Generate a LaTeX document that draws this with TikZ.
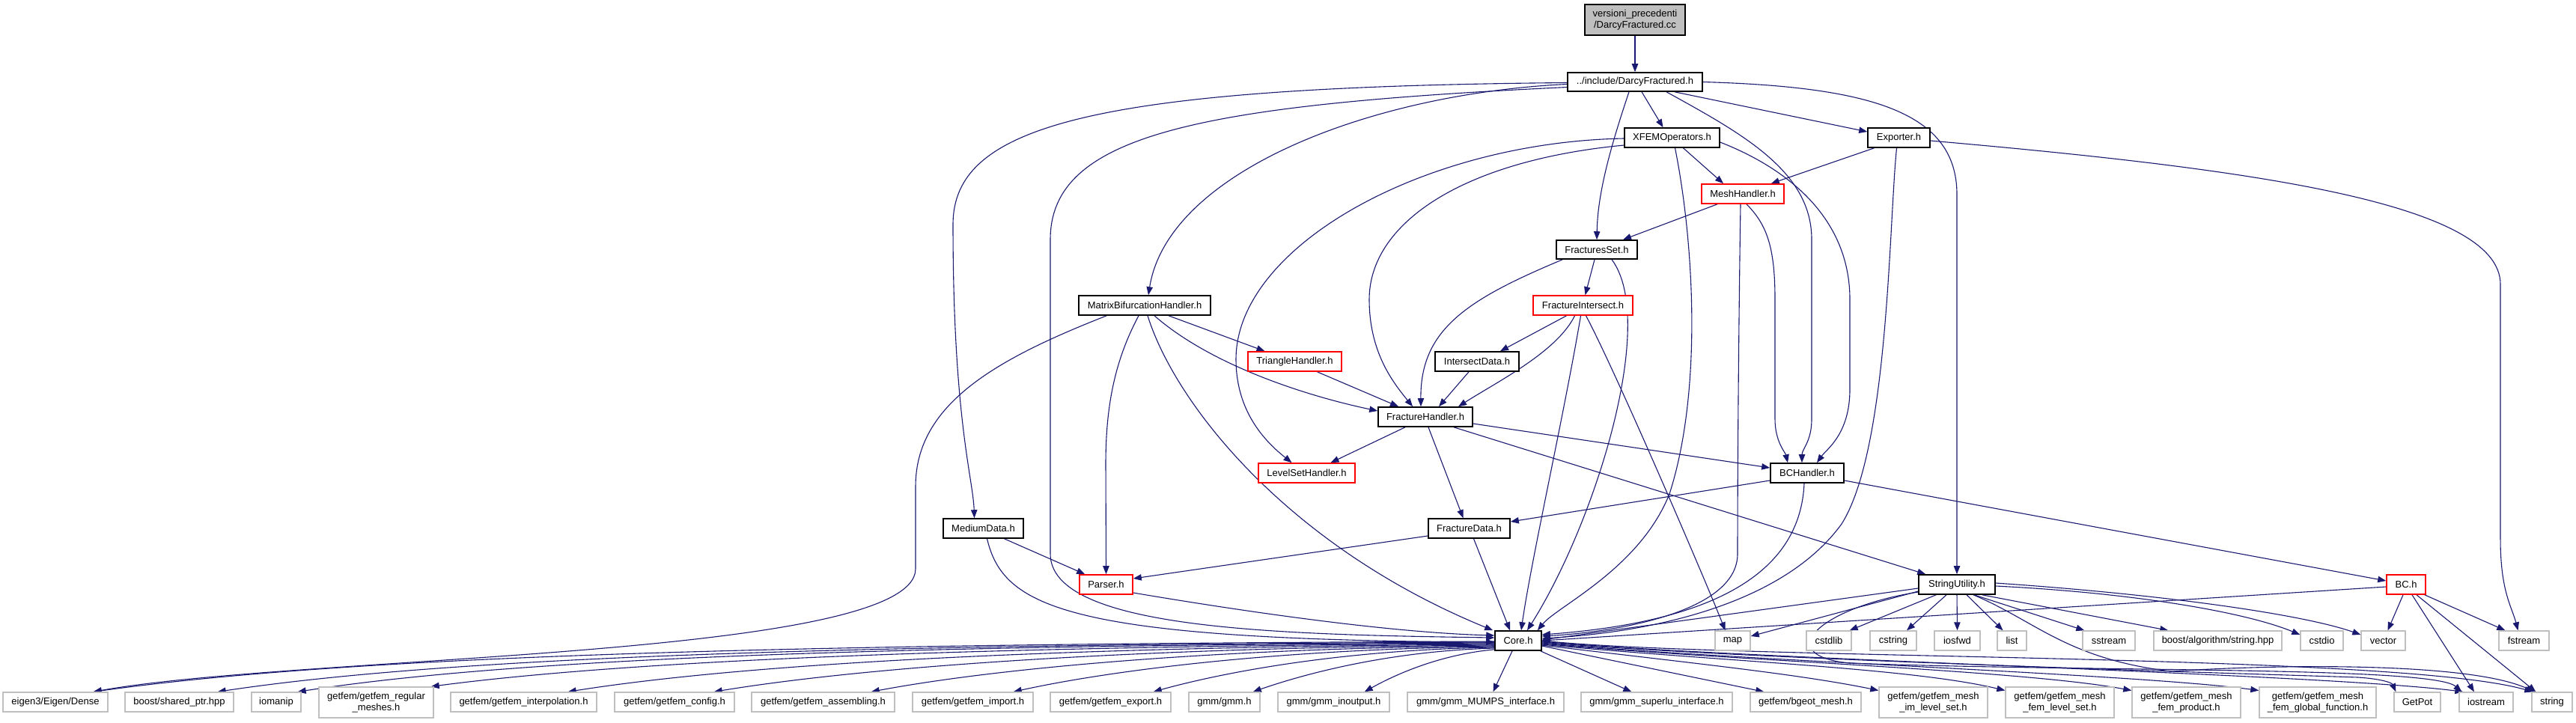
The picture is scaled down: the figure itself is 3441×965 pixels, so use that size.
\documentclass[tikz,border=0pt]{standalone}
\usepackage{fontspec}
\setmainfont{Liberation Sans}
\usetikzlibrary{arrows.meta,calc,backgrounds}
\definecolor{edgeblue}{RGB}{25,25,112}
\definecolor{nodegray}{RGB}{191,191,191}
\newcommand{\dgfont}{\fontsize{6.5pt}{7.4pt}\selectfont}
\tikzset{
  base/.style={rectangle, inner sep=0pt, font=\dgfont, fill=white, align=center, text=black},
  bk/.style={base, draw=black, line width=0.8pt},
  rd/.style={base, draw=red, line width=0.8pt},
  gr/.style={base, draw=nodegray, line width=0.7pt},
  rt/.style={base, draw=black, fill=nodegray, line width=0.8pt},
  wh/.style 2 args={minimum width=#1*0.5pt, minimum height=#2*0.5pt},
  e/.style={draw=edgeblue, line width=0.55pt, -{Triangle[length=5.5pt,width=4.2pt]}}
}
\begin{document}
\begin{tikzpicture}[x=0.5pt,y=-0.5pt]
\useasboundingbox (0,0) rectangle (3441,965);
% ---------- nodes ----------
\node[rt, wh={134}{41}] (root) at (2184,26.5) {versioni\_precedenti\\/DarcyFractured.cc};
\node[bk, wh={180}{25}] (D) at (2184,109.5) {../include/DarcyFractured.h};
\node[bk, wh={127}{26}] (X) at (2233.5,184) {XFEMOperators.h};
\node[bk, wh={83}{26}] (Exp) at (2536.5,184) {Exporter.h};
\node[rd, wh={110}{26}] (MH) at (2328,259) {MeshHandler.h};
\node[bk, wh={108}{25}] (FS) at (2133,333.5) {FracturesSet.h};
\node[bk, wh={176}{26}] (MBH) at (1529,408) {MatrixBifurcationHandler.h};
\node[rd, wh={133}{26}] (FI) at (2114.5,408) {FractureIntersect.h};
\node[rd, wh={125}{26}] (TH) at (1729.5,483) {TriangleHandler.h};
\node[bk, wh={112}{26}] (ID) at (1973,483) {IntersectData.h};
\node[bk, wh={126}{26}] (FH) at (1904,557) {FractureHandler.h};
\node[rd, wh={129}{26}] (LSH) at (1745.5,632) {LevelSetHandler.h};
\node[bk, wh={98}{26}] (BCH) at (2414,632) {BCHandler.h};
\node[bk, wh={107}{26}] (MD) at (1313.5,706) {MediumData.h};
\node[bk, wh={109}{26}] (FD) at (1962.5,706) {FractureData.h};
\node[rd, wh={71}{26}] (Par) at (1477.5,781) {Parser.h};
\node[bk, wh={102}{26}] (SU) at (2614,781) {StringUtility.h};
\node[rd, wh={52}{26}] (BC) at (3214,781) {BC.h};
\node[bk, wh={62}{26}] (Core) at (2028,856) {Core.h};
\node[gr, wh={47}{26}] (map) at (2314.5,856) {map};
\node[gr, wh={60}{26}] (cstdlib) at (2443,856) {cstdlib};
\node[gr, wh={62}{26}] (cstring) at (2529,856) {cstring};
\node[gr, wh={61}{26}] (iosfwd) at (2614.5,856) {iosfwd};
\node[gr, wh={39}{26}] (list) at (2687.5,856) {list};
\node[gr, wh={70}{26}] (sstream) at (2817,856) {sstream};
\node[gr, wh={171}{26}] (balg) at (2962.5,856) {boost/algorithm/string.hpp};
\node[gr, wh={57}{26}] (cstdio) at (3101.5,856) {cstdio};
\node[gr, wh={59}{26}] (vector) at (3183.5,856) {vector};
\node[gr, wh={67}{26}] (fstream) at (3371.5,856) {fstream};
\node[gr, wh={140}{26}] (eigen) at (74,938) {eigen3/Eigen/Dense};
\node[gr, wh={145}{26}] (shptr) at (239.5,938) {boost/shared\_ptr.hpp};
\node[gr, wh={66}{26}] (iomanip) at (369,938) {iomanip};
\node[gr, wh={153}{41}] (regmesh) at (502.5,938.5) {getfem/getfem\_regular\\\_meshes.h};
\node[gr, wh={195}{26}] (interp) at (699.5,938) {getfem/getfem\_interpolation.h};
\node[gr, wh={160}{26}] (config) at (901,938) {getfem/getfem\_config.h};
\node[gr, wh={191}{26}] (assem) at (1099.5,938) {getfem/getfem\_assembling.h};
\node[gr, wh={161}{26}] (import) at (1299.5,938) {getfem/getfem\_import.h};
\node[gr, wh={161}{26}] (export) at (1483.5,938) {getfem/getfem\_export.h};
\node[gr, wh={95}{26}] (gmm) at (1635.5,938) {gmm/gmm.h};
\node[gr, wh={149}{26}] (inout) at (1781.5,938) {gmm/gmm\_inoutput.h};
\node[gr, wh={209}{26}] (mumps) at (1984.5,938) {gmm/gmm\_MUMPS\_interface.h};
\node[gr, wh={202}{26}] (superlu) at (2213,938) {gmm/gmm\_superlu\_interface.h};
\node[gr, wh={148}{26}] (bgeot) at (2412,938) {getfem/bgeot\_mesh.h};
\node[gr, wh={145}{41}] (imls) at (2582.5,938.5) {getfem/getfem\_mesh\\\_im\_level\_set.h};
\node[gr, wh={145}{41}] (femls) at (2751.5,938.5) {getfem/getfem\_mesh\\\_fem\_level\_set.h};
\node[gr, wh={145}{41}] (femprod) at (2920.5,938.5) {getfem/getfem\_mesh\\\_fem\_product.h};
\node[gr, wh={156}{41}] (femglob) at (3096,938.5) {getfem/getfem\_mesh\\\_fem\_global\_function.h};
\node[gr, wh={62}{26}] (getpot) at (3229,938) {GetPot};
\node[gr, wh={72}{26}] (iostream) at (3321,938) {iostream};
\node[gr, wh={54}{26}] (string) at (3409,938) {string};
% ---------- edges ----------
\begin{pgfonlayer}{background}
\draw[e] (root.south) -- (D.north);
% DarcyFractured.h
\draw[e] ($(D.south)+(9,0)$) -- ($(X.north)+(-12,0)$);
\draw[e] ($(D.south)+(53,0)$) -- ($(Exp.west)+(0,-8)$);
\draw[e] ($(D.south)+(-8,0)$) .. controls (2150,200) and (2134,260) .. (FS.north);
\draw[e] ($(D.west)+(0,3)$) .. controls (1830,125) and (1560,230) .. ($(MBH.north)+(5,0)$);
\draw[e] ($(D.west)+(0,1)$) .. controls (1450,116) and (1273,170) .. (1273,300) .. controls (1273,560) and (1300,640) .. ($(MD.north)+(-12,0)$);
\draw[e] ($(D.west)+(0,7)$) .. controls (1600,140) and (1403,180) .. (1403,320) -- (1403,740) .. controls (1403,840) and (1700,848) .. ($(Core.west)+(0,-4)$);
\draw[e] ($(D.south)+(42,0)$) .. controls (2330,180) and (2420,230) .. (2420,320) -- (2420,560) .. controls (2420,590) and (2407,600) .. ($(BCH.north)+(-7,0)$);
\draw[e] (D.east) .. controls (2500,116) and (2614,150) .. (2614,260) -- (SU.north);
% XFEMOperators.h
\draw[e] ($(X.south)+(15,0)$) -- ($(MH.north)+(-26,0)$);
\draw[e] ($(X.south)+(4,0)$) .. controls (2262,320) and (2275,520) .. (2230,660) .. controls (2190,760) and (2080,810) .. ($(Core.north east)+(-6,0)$);
\draw[e] ($(X.west)+(0,10)$) .. controls (1950,215) and (1829,300) .. (1829,400) .. controls (1829,470) and (1860,510) .. ($(FH.north)+(-17,0)$);
\draw[e] ($(X.west)+(0,1)$) .. controls (1900,190) and (1651,330) .. (1651,480) .. controls (1651,550) and (1690,590) .. ($(LSH.north)+(-20,0)$);
\draw[e] ($(X.east)+(0,6)$) .. controls (2400,230) and (2471,300) .. (2471,400) -- (2471,520) .. controls (2471,580) and (2440,600) .. ($(BCH.north)+(13,0)$);
% Exporter.h
\draw[e] ($(Exp.south)+(-33,0)$) -- ($(MH.north east)+(-18,0)$);
\draw[e] ($(Exp.south)+(-3,0)$) .. controls (2523,300) and (2523,600) .. (2460,700) .. controls (2380,810) and (2200,845) .. ($(Core.east)+(0,-3)$);
\draw[e] ($(Exp.east)+(0,4)$) .. controls (3000,225) and (3340,270) .. (3340,380) -- (3340,720) .. controls (3340,790) and (3355,810) .. ($(fstream.north)+(-8,0)$);
% MeshHandler.h
\draw[e] ($(MH.south)+(-34,0)$) -- ($(FS.north)+(35,0)$);
\draw[e] ($(MH.south)+(-3,0)$) .. controls (2323,400) and (2321,600) .. (2321,740) .. controls (2321,820) and (2150,845) .. ($(Core.east)+(0,-6)$);
\draw[e] ($(MH.south)+(5,0)$) .. controls (2360,300) and (2371,330) .. (2371,400) -- (2371,560) .. controls (2371,590) and (2385,605) .. ($(BCH.north)+(-26,0)$);
% FracturesSet.h
\draw[e] ($(FS.south)+(-3,0)$) -- ($(FI.north)+(3,0)$);
\draw[e] ($(FS.south west)+(9,0)$) .. controls (1960,400) and (1897,440) .. ($(FH.north)+(-6,0)$);
\draw[e] ($(FS.south)+(20,0)$) .. controls (2215,430) and (2130,700) .. ($(Core.north)+(12,0)$);
% MatrixBifurcationHandler.h
\draw[e] ($(MBH.south)+(32,0)$) -- ($(TH.north)+(-40,0)$);
\draw[e] ($(MBH.south)+(13,0)$) .. controls (1620,490) and (1750,530) .. ($(FH.west)+(0,-8)$);
\draw[e] ($(MBH.south)+(-8,0)$) .. controls (1490,480) and (1477,540) .. (1477,620) -- (Par.north);
\draw[e] ($(MBH.south)+(4,0)$) .. controls (1570,540) and (1720,730) .. ($(Core.north west)+(-2,0)$);
\draw[e] ($(MBH.south west)+(38,0)$) .. controls (1330,480) and (1223,540) .. (1223,650) -- (1223,760) .. controls (1223,880) and (400,875) .. ($(eigen.north east)+(-20,0)$);
% TriangleHandler, IntersectData, FractureIntersect
\draw[e] ($(TH.south)+(30,0)$) -- ($(FH.north)+(-36,0)$);
\draw[e] ($(ID.south)+(-11,0)$) -- ($(FH.north)+(18,0)$);
\draw[e] ($(FI.south)+(-22,0)$) -- ($(ID.north)+(31,0)$);
\draw[e] ($(FI.south)+(-11,0)$) .. controls (2080,470) and (2000,510) .. ($(FH.north)+(44,0)$);
\draw[e] ($(FI.south)+(-3,0)$) .. controls (2090,550) and (2045,750) .. ($(Core.north)+(4,0)$);
\draw[e] ($(FI.south)+(4,0)$) .. controls (2160,500) and (2280,780) .. ($(map.north)+(-10,0)$);
% FractureHandler.h
\draw[e] ($(FH.south)+(-27,0)$) -- ($(LSH.north)+(32,0)$);
\draw[e] ($(FH.south)+(4,0)$) -- ($(FD.north)+(-8,0)$);
\draw[e] ($(FH.east)+(0,9)$) -- ($(BCH.west)+(0,-7)$);
\draw[e] ($(FH.south)+(38,0)$) -- ($(SU.north west)+(10,0)$);
% BCHandler.h
\draw[e] ($(BCH.west)+(0,10)$) -- ($(FD.east)+(0,-9)$);
\draw[e] ($(BCH.south)+(-4,0)$) .. controls (2405,760) and (2300,830) .. ($(Core.east)+(0,-8)$);
\draw[e] ($(BCH.east)+(0,10)$) -- ($(BC.west)+(0,-5)$);
% FractureData, MediumData, Parser
\draw[e] ($(FD.west)+(0,10)$) -- ($(Par.east)+(0,-8)$);
\draw[e] ($(FD.south)+(6,0)$) -- ($(Core.north)+(-11,0)$);
\draw[e] ($(MD.south)+(28,0)$) -- ($(Par.north west)+(8,0)$);
\draw[e] ($(MD.south)+(5,0)$) .. controls (1340,810) and (1420,855) .. ($(Core.west)+(0,2)$);
\draw[e] ($(Par.east)+(0,11)$) .. controls (1650,815) and (1850,845) .. ($(Core.west)+(0,-7)$);
% StringUtility.h
\draw[e] ($(SU.west)+(0,5)$) -- ($(Core.east)+(0,-1)$);
\draw[e] ($(SU.west)+(0,9)$) -- ($(map.east)+(0,-6)$);
\draw[e] ($(SU.south west)+(24,0)$) -- ($(cstdlib.north east)+(-3,0)$);
\draw[e] ($(SU.south)+(-14,0)$) -- ($(cstring.north)+(18,0)$);
\draw[e] (SU.south) -- (iosfwd.north);
\draw[e] ($(SU.south)+(13,0)$) -- ($(list.north)+(-12,0)$);
\draw[e] ($(SU.south)+(23,0)$) -- ($(sstream.north west)+(3,0)$);
\draw[e] ($(SU.south east)+(-18,0)$) -- ($(balg.north west)+(20,0)$);
\draw[e] ($(SU.east)+(0,2)$) .. controls (2850,792) and (3000,818) .. ($(cstdio.west)+(0,-8)$);
\draw[e] ($(SU.east)+(0,-2)$) .. controls (2900,795) and (3080,822) .. ($(vector.west)+(0,-8)$);
\draw[e] ($(SU.west)+(0,10)$) .. controls (2430,812) and (2365,875) .. (2470,886) .. controls (2800,898) and (3250,890) .. ($(iostream.north west)+(4,0)$);
\draw[e] ($(SU.south)+(22,0)$) .. controls (2720,830) and (2760,880) .. (2900,897) .. controls (3050,887) and (3300,885) .. ($(string.north west)+(4,0)$);
% BC.h
\draw[e] ($(BC.west)+(0,3)$) -- (Core.east);
\draw[e] ($(BC.south)+(-4,0)$) -- ($(vector.north)+(6,0)$);
\draw[e] ($(BC.south east)+(-2,0)$) -- ($(fstream.north west)+(9,0)$);
\draw[e] ($(BC.south)+(8,0)$) -- ($(iostream.north)+(-16,0)$);
\draw[e] ($(BC.south)+(14,0)$) -- ($(string.north west)+(6,0)$);
% Core.h to the left
\draw[e] ($(Core.west)+(0,1)$) .. controls (1154,860) and (499,872) .. ($(eigen.north east)+(-20,0)$);
\draw[e] ($(Core.west)+(0,2)$) .. controls (1229,861) and (631,873) .. ($(shptr.north east)+(-22,0)$);
\draw[e] ($(Core.west)+(0,3)$) .. controls (1277,862) and (717,875) .. ($(iomanip.north east)+(-5,0)$);
\draw[e] ($(Core.west)+(0,4)$) .. controls (1357,863) and (859,880) .. ($(regmesh.north east)+(-4,0)$);
\draw[e] ($(Core.west)+(0,5)$) .. controls (1439,864) and (1006,885) .. ($(interp.north east)+(-39,0)$);
\draw[e] ($(Core.west)+(0,6)$) .. controls (1527,865) and (1162,890) .. ($(config.north east)+(-28,0)$);
\draw[e] ($(Core.west)+(0,7)$) .. controls (1622,866) and (1330,893) .. ($(assem.north east)+(-32,0)$);
\draw[e] ($(Core.west)+(0,8)$) .. controls (1707,867) and (1482,896) .. ($(import.north east)+(-27,0)$);
\draw[e] ($(Core.west)+(0,9)$) .. controls (1791,868) and (1631,899) .. ($(export.north east)+(-24,0)$);
\draw[e] ($(Core.west)+(0,10)$) .. controls (1851,870) and (1738,902) .. ($(gmm.north east)+(-10,0)$);
\draw[e] ($(Core.south west)+(0,-2)$) .. controls (1918,875) and (1857,905) .. ($(inout.north east)+(-34,0)$);
% Core.h to the right
\draw[e] ($(Core.south)+(-8,0)$) -- ($(mumps.north)+(10,0)$);
\draw[e] ($(Core.south east)+(-2,0)$) -- ($(superlu.north west)+(68,0)$);
\draw[e] ($(Core.east)+(0,7)$) -- ($(bgeot.north west)+(19,0)$);
\draw[e] ($(Core.east)+(0,6)$) .. controls (2250,885) and (2400,900) .. ($(imls.west)+(0,-16)$);
\draw[e] ($(Core.east)+(0,5)$) .. controls (2300,884) and (2550,892) .. ($(femls.west)+(0,-16)$);
\draw[e] ($(Core.east)+(0,4)$) .. controls (2300,882) and (2700,895) .. ($(femprod.west)+(0,-16)$);
\draw[e] ($(Core.east)+(0,3)$) .. controls (2300,882) and (2850,900) .. ($(femglob.west)+(0,-16)$);
\draw[e] ($(Core.east)+(0,2)$) .. controls (2300,880) and (3000,900) .. (3150,905) .. controls (3180,907) and (3195,912) .. ($(getpot.north west)+(3,0)$);
\draw[e] ($(Core.east)+(0,1)$) .. controls (2300,880) and (3100,900) .. ($(iostream.north west)+(6,0)$);
\draw[e] (Core.east) .. controls (2300,882) and (3200,872) .. ($(string.north west)+(2,0)$);
\end{pgfonlayer}
\end{tikzpicture}
\end{document}
